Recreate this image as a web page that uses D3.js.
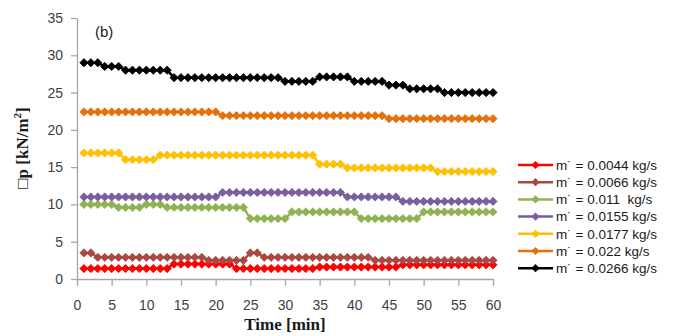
<!DOCTYPE html>
<html>
<head>
<meta charset="utf-8">
<script src="https://cdn.jsdelivr.net/npm/d3@7"></script>
<style>
  body { margin: 0; background: #fff; }
  text { font-family: "Liberation Sans", Arial, sans-serif; }
</style>
</head>
<body>
<div id="chart"></div>
<script>
// Time axis (minutes 1..60)
const minutes = d3.range(1, 61);

// Pressure drop readings [kN/m2], one per minute
const dp0044 = [1.4,1.4,1.4,1.4,1.4,1.4,1.4,1.4,1.4,1.4,
                1.4,1.4,1.4,2.0,2.0,2.0,2.0,2.0,2.0,2.0,
                2.0,2.0,1.4,1.4,1.4,1.4,1.4,1.4,1.4,1.4,
                1.4,1.4,1.4,1.4,1.6,1.6,1.6,1.6,1.6,1.6,
                1.6,1.6,1.6,1.6,1.6,1.6,1.9,1.9,1.9,1.9,
                1.9,1.9,1.9,1.9,1.9,1.9,1.9,1.9,1.9,1.9];
const dp0066 = [3.5,3.5,2.9,2.9,2.9,2.9,2.9,2.9,2.9,2.9,
                2.9,2.9,2.9,2.9,2.9,2.9,2.9,2.9,2.5,2.5,
                2.5,2.5,2.5,2.5,3.5,3.5,2.9,2.9,2.9,2.9,
                2.9,2.9,2.9,2.9,2.9,2.9,2.9,2.9,2.9,2.9,
                2.9,2.9,2.5,2.5,2.5,2.5,2.5,2.5,2.5,2.5,
                2.5,2.5,2.5,2.5,2.5,2.5,2.5,2.5,2.5,2.5];
const dp011  = [10,10,10,10,10,9.6,9.6,9.6,9.6,10,
                10,10,9.6,9.6,9.6,9.6,9.6,9.6,9.6,9.6,
                9.6,9.6,9.6,9.6,8.1,8.1,8.1,8.1,8.1,8.1,
                9,9,9,9,9,9,9,9,9,9,
                8.1,8.1,8.1,8.1,8.1,8.1,8.1,8.1,8.1,9,
                9,9,9,9,9,9,9,9,9,9];
const dp0155 = [11,11,11,11,11,11,11,11,11,11,
                11,11,11,11,11,11,11,11,11,11,
                11.6,11.6,11.6,11.6,11.6,11.6,11.6,11.6,11.6,11.6,
                11.6,11.6,11.6,11.6,11.6,11.6,11.6,11.6,11,11,
                11,11,11,11,11,11,10.4,10.4,10.4,10.4,
                10.4,10.4,10.4,10.4,10.4,10.4,10.4,10.4,10.4,10.4];
const dp0177 = [16.9,16.9,16.9,16.9,16.9,16.9,16,16,16,16,
                16,16.6,16.6,16.6,16.6,16.6,16.6,16.6,16.6,16.6,
                16.6,16.6,16.6,16.6,16.6,16.6,16.6,16.6,16.6,16.6,
                16.6,16.6,16.6,16.6,15.4,15.4,15.4,15.4,14.9,14.9,
                14.9,14.9,14.9,14.9,14.9,14.9,14.9,14.9,14.9,14.9,
                14.9,14.4,14.4,14.4,14.4,14.4,14.4,14.4,14.4,14.4];
const dp022  = [22.4,22.4,22.4,22.4,22.4,22.4,22.4,22.4,22.4,22.4,
                22.4,22.4,22.4,22.4,22.4,22.4,22.4,22.4,22.4,22.4,
                21.9,21.9,21.9,21.9,21.9,21.9,21.9,21.9,21.9,21.9,
                21.9,21.9,21.9,21.9,21.9,21.9,21.9,21.9,21.9,21.9,
                21.9,21.9,21.9,21.9,21.5,21.5,21.5,21.5,21.5,21.5,
                21.5,21.5,21.5,21.5,21.5,21.5,21.5,21.5,21.5,21.5];
const dp0266 = [29,29,29,28.5,28.5,28.5,28,28,28,28,
                28,28,28,27,27,27,27,27,27,27,
                27,27,27,27,27,27,27,27,27,26.5,
                26.5,26.5,26.5,26.5,27.1,27.1,27.1,27.1,27.1,26.5,
                26.5,26.5,26.5,26.5,26,26,26,25.5,25.5,25.5,
                25.5,25.5,25,25,25,25,25,25,25,25];

const seriesNames = ["m˙ = 0.0044 kg/s", "m˙ = 0.0066 kg/s", "m˙ = 0.011  kg/s",
                     "m˙ = 0.0155 kg/s", "m˙ = 0.0177 kg/s", "m˙ = 0.022 kg/s", "m˙ = 0.0266 kg/s"];
const seriesValues = [dp0044, dp0066, dp011, dp0155, dp0177, dp022, dp0266];
const seriesColors = ["#ff0000", "#aa4944", "#8fb352", "#7b5e9e", "#ffc000", "#e5700c", "#000000"];

const yTicks = [0, 5, 10, 15, 20, 25, 30, 35];
const xTicks = [0, 5, 10, 15, 20, 25, 30, 35, 40, 45, 50, 55, 60];

const W = 676, H = 336;
const plot = { left: 77, right: 493, top: 18, bottom: 279 };

const svg = d3.select("#chart").append("svg")
    .attr("width", W)
    .attr("height", H);

const x = d3.scaleLinear().domain([0, 60]).range([plot.left, plot.right]);
const y = d3.scaleLinear().domain([0, 35]).range([plot.bottom, plot.top]);

// Axes
const yAxis = svg.append("g")
    .attr("transform", `translate(${plot.left},0)`)
    .call(d3.axisLeft(y).tickValues(yTicks).tickSize(6).tickPadding(8).tickSizeOuter(0));

const xAxis = svg.append("g")
    .attr("transform", `translate(0,${plot.bottom})`)
    .call(d3.axisBottom(x).tickValues(xTicks).tickSize(7).tickPadding(14).tickSizeOuter(0));

[yAxis, xAxis].forEach(ax => {
    ax.select(".domain").attr("stroke", "#a6a6a6").attr("stroke-width", 1.3);
    ax.selectAll(".tick line").attr("stroke", "#a6a6a6").attr("stroke-width", 1.3);
    ax.selectAll(".tick text")
        .attr("fill", "#3a3f4a")
        .style("font-size", "14px")
        .style("font-family", "'Liberation Sans', Arial, sans-serif");
});

// Diamond marker
const diamond = {
    draw(ctx, size) {
        const r = Math.sqrt(size / 2);
        ctx.moveTo(0, -r);
        ctx.lineTo(r, 0);
        ctx.lineTo(0, r);
        ctx.lineTo(-r, 0);
        ctx.closePath();
    }
};
const marker = d3.symbol().type(diamond).size(34);

const line = d3.line()
    .x((d, i) => x(minutes[i]))
    .y(d => y(d));

// Series
seriesValues.forEach((vals, k) => {
    const g = svg.append("g");
    g.append("path")
        .datum(vals)
        .attr("fill", "none")
        .attr("stroke", seriesColors[k])
        .attr("stroke-width", 2.5);
    g.select("path").attr("d", line);
    g.selectAll("path.mk")
        .data(vals)
        .join("path")
        .attr("class", "mk")
        .attr("transform", (d, i) => `translate(${x(minutes[i])},${y(d)})`)
        .attr("d", marker)
        .attr("fill", seriesColors[k])
        .attr("stroke", seriesColors[k])
        .attr("stroke-width", 0.8);
});

// Panel tag
svg.append("text")
    .attr("x", 95)
    .attr("y", 37)
    .attr("fill", "#1a1a1a")
    .style("font-size", "15px")
    .text("(b)");

// Axis titles
svg.append("text")
    .attr("x", (plot.left + plot.right) / 2)
    .attr("y", 330)
    .attr("text-anchor", "middle")
    .style("font-family", "'Liberation Serif', 'Times New Roman', serif")
    .style("font-weight", "bold")
    .style("font-size", "17px")
    .attr("fill", "#1a1a1a")
    .text("Time [min]");

const yTitle = svg.append("text")
    .attr("transform", "translate(28,148) rotate(-90)")
    .attr("text-anchor", "middle")
    .style("font-family", "'Liberation Serif', 'Times New Roman', serif")
    .style("font-weight", "bold")
    .style("font-size", "17px")
    .attr("fill", "#1a1a1a");
yTitle.append("tspan").text("□p [kN/m");
yTitle.append("tspan").attr("dy", -7).style("font-size", "11px").text("2");
yTitle.append("tspan").attr("dy", 7).text("]");

// Legend
const legend = svg.append("g")
    .selectAll("g")
    .data(seriesNames)
    .join("g")
    .attr("transform", (d, i) => `translate(518,${165 + i * 17.2})`);

legend.append("line")
    .attr("x1", 0).attr("x2", 35)
    .attr("stroke", (d, i) => seriesColors[i])
    .attr("stroke-width", 2.5);

legend.append("path")
    .attr("transform", "translate(17.5,0)")
    .attr("d", marker)
    .attr("fill", (d, i) => seriesColors[i]);

legend.append("text")
    .attr("x", 38)
    .attr("dy", "0.35em")
    .attr("fill", "#1a1a1a")
    .style("font-size", "13.5px")
    .style("white-space", "pre")
    .text(d => d);
</script>
</body>
</html>
